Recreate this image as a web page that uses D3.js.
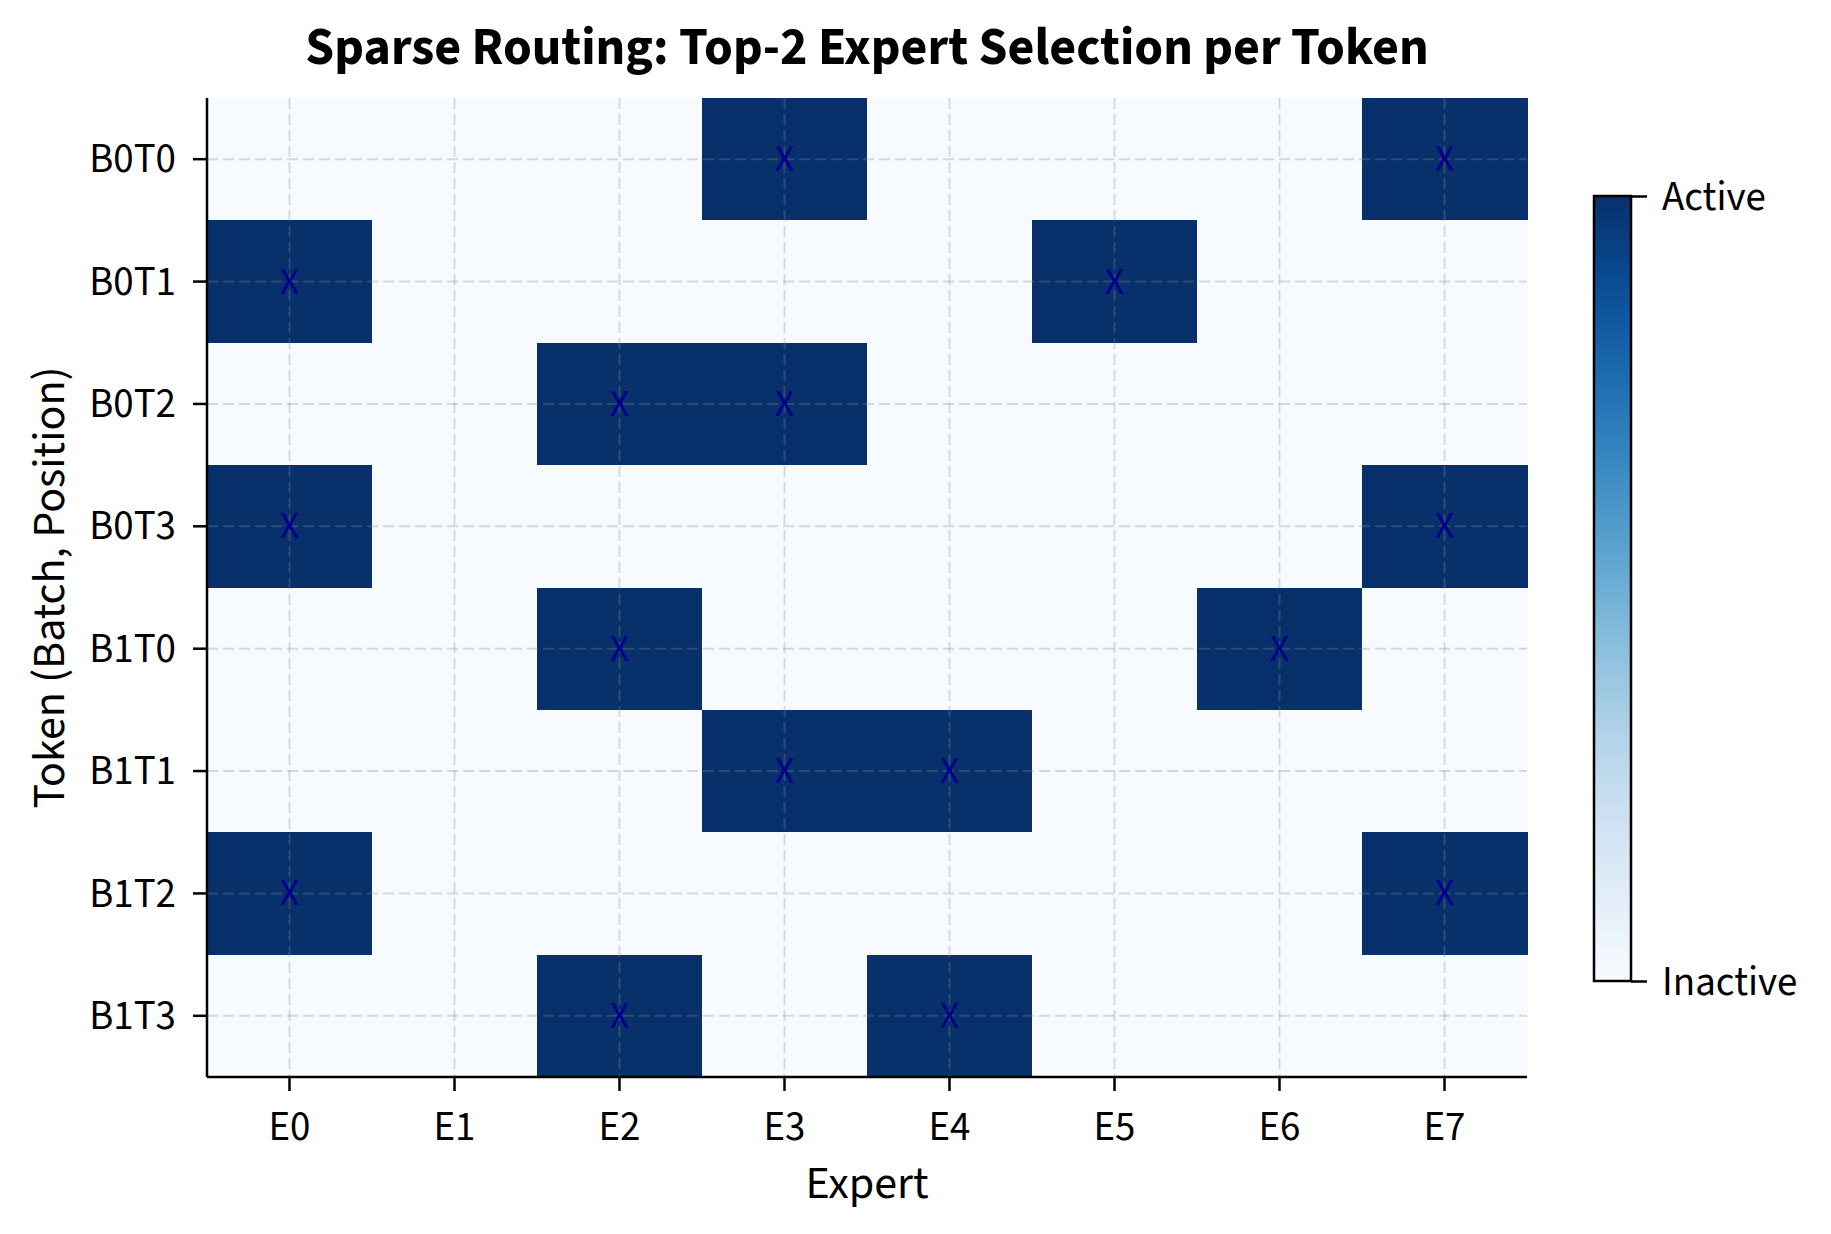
<!DOCTYPE html>
<html>
<head>
<meta charset="utf-8">
<script src="https://cdn.jsdelivr.net/npm/d3@7"></script>
<style>
  html, body { margin: 0; padding: 0; background: #fff; }
  text { font-family: "Source Sans 3", "Source Sans Pro", Lato, "Noto Sans", sans-serif; }
</style>
</head>
<body>
<svg id="chart" width="1831" height="1234"></svg>
<script>
const tokens = ["B0T0", "B0T1", "B0T2", "B0T3", "B1T0", "B1T1", "B1T2", "B1T3"];
const experts = ["E0", "E1", "E2", "E3", "E4", "E5", "E6", "E7"];
// Top-2 selected expert indices per token
const selectedExperts = [
  [3, 7],
  [0, 5],
  [2, 3],
  [0, 7],
  [2, 6],
  [3, 4],
  [0, 7],
  [2, 4]
];
const colorbarLabels = ["Inactive", "Active"];
const titleText = "Sparse Routing: Top-2 Expert Selection per Token";
const xLabel = "Expert";
const yLabel = "Token (Batch, Position)";

const FONT = '"Source Sans 3", "Source Sans Pro", Lato, "Noto Sans", sans-serif';
const svg = d3.select("#chart");
const m = { left: 207, right: 1527, top: 98, bottom: 1077 };

const x = d3.scaleBand().domain(experts).range([m.left, m.right]).padding(0);
const y = d3.scaleBand().domain(tokens).range([m.top, m.bottom]).padding(0);
const color = d3.scaleSequential(d3.interpolateBlues).domain([0, 1]);

const cells = [];
tokens.forEach((t, i) => {
  experts.forEach((e, j) => {
    cells.push({ t, e, v: selectedExperts[i].includes(j) ? 1 : 0 });
  });
});

svg.append("g").selectAll("rect.cell").data(cells).join("rect")
  .attr("class", "cell")
  .attr("x", d => x(d.e))
  .attr("y", d => y(d.t))
  .attr("width", x.bandwidth() + 0.5)
  .attr("height", y.bandwidth() + 0.5)
  .attr("fill", d => color(d.v))
  .attr("shape-rendering", "crispEdges");

// grid
const grid = svg.append("g").attr("stroke", "#8a8a8a").attr("stroke-opacity", 0.3)
  .attr("stroke-width", 2).attr("stroke-dasharray", "11,5");
experts.forEach(e => {
  const cx = x(e) + x.bandwidth() / 2;
  grid.append("line").attr("x1", cx).attr("x2", cx).attr("y1", m.top).attr("y2", m.bottom);
});
tokens.forEach(t => {
  const cy = y(t) + y.bandwidth() / 2;
  grid.append("line").attr("x1", m.left).attr("x2", m.right).attr("y1", cy).attr("y2", cy);
});

// markers
svg.append("g").selectAll("text").data(cells.filter(d => d.v === 1)).join("text")
  .attr("x", d => x(d.e) + x.bandwidth() / 2)
  .attr("y", d => y(d.t) + y.bandwidth() / 2)
  .attr("text-anchor", "middle")
  .attr("dominant-baseline", "central")
  .attr("font-size", 38)
  .attr("fill", "#00008b")
  .text("X");

// axes
const xAxis = d3.axisBottom(x).tickSize(14).tickPadding(20);
const yAxis = d3.axisLeft(y).tickSize(14).tickPadding(17);
const gx = svg.append("g").attr("transform", `translate(0,${m.bottom})`).call(xAxis);
const gy = svg.append("g").attr("transform", `translate(${m.left},0)`).call(yAxis);
[gx, gy].forEach(a => {
  a.select(".domain").attr("stroke", "#000").attr("stroke-width", 2.5);
  a.selectAll(".tick line").attr("stroke", "#000").attr("stroke-width", 2.5);
  a.selectAll(".tick text").attr("font-size", 41).attr("fill", "#000").style("font-family", FONT);
});
gx.select(".domain").attr("d", `M${m.left},0H${m.right}`);
gy.select(".domain").attr("d", `M0,${m.top}V${m.bottom}`);

// axis labels
svg.append("text").attr("x", (m.left + m.right) / 2).attr("y", 1198)
  .attr("text-anchor", "middle").attr("font-size", 46).text(xLabel);
svg.append("text").attr("transform", `translate(64,${(m.top + m.bottom) / 2}) rotate(-90)`)
  .attr("text-anchor", "middle").attr("font-size", 46).text(yLabel);

// title
svg.append("text").attr("x", (m.left + m.right) / 2).attr("y", 64)
  .attr("text-anchor", "middle").attr("font-size", 52).attr("font-weight", "bold").text(titleText);

// colorbar
const cb = { x: 1594, w: 37, top: 196, bottom: 981 };
const defs = svg.append("defs");
const grad = defs.append("linearGradient").attr("id", "cbgrad")
  .attr("x1", "0").attr("y1", "1").attr("x2", "0").attr("y2", "0");
d3.range(0, 1.0001, 0.05).forEach(s => {
  grad.append("stop").attr("offset", s).attr("stop-color", d3.interpolateBlues(s));
});
const cbScale = d3.scaleLinear().domain([0, 1]).range([cb.bottom, cb.top]);
svg.append("rect").attr("x", cb.x).attr("y", cb.top).attr("width", cb.w)
  .attr("height", cb.bottom - cb.top).attr("fill", "url(#cbgrad)")
  .attr("stroke", "#000").attr("stroke-width", 2.5);
const cbAxis = d3.axisRight(cbScale).tickValues([0, 1])
  .tickFormat(d => colorbarLabels[d]).tickSize(16).tickPadding(15);
const gcb = svg.append("g").attr("transform", `translate(${cb.x + cb.w},0)`).call(cbAxis);
gcb.select(".domain").remove();
gcb.selectAll(".tick line").attr("stroke", "#000").attr("stroke-width", 2.5);
gcb.selectAll(".tick text").attr("font-size", 41).attr("fill", "#000").style("font-family", FONT);
</script>
</body>
</html>
